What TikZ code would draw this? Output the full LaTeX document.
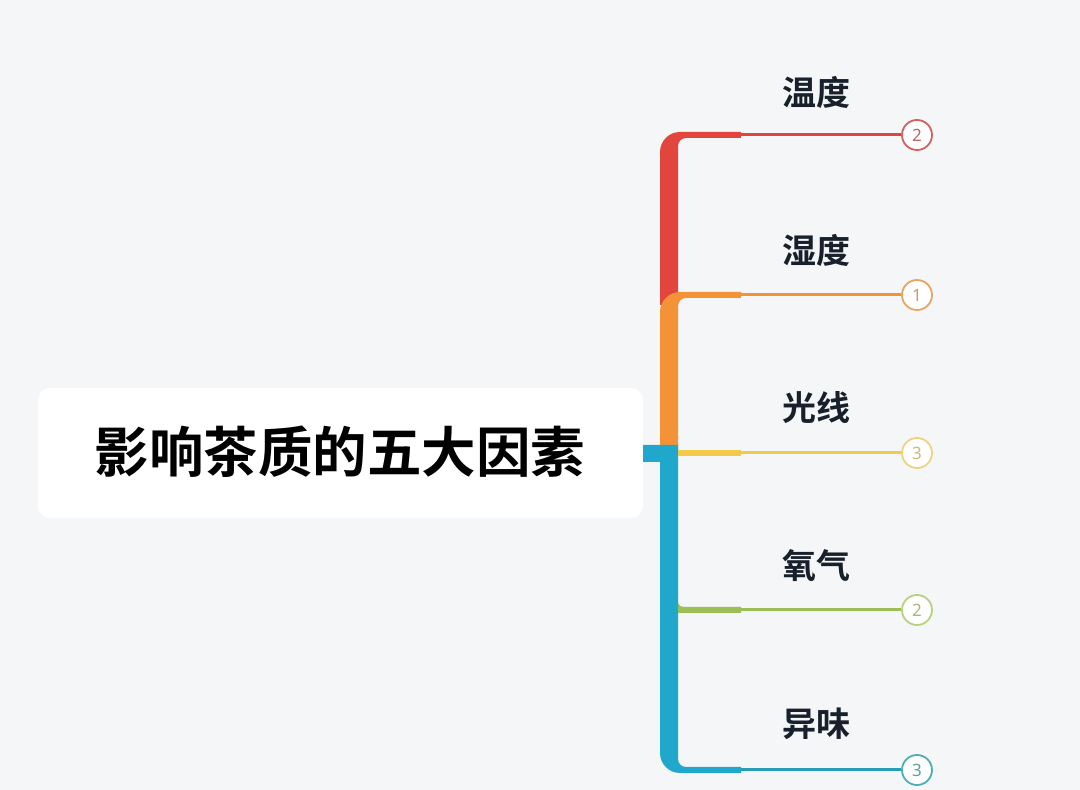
\documentclass[tikz,border=0pt]{standalone}
\usepackage{fontspec}
\newfontfamily\cjk{Noto Sans CJK SC}[BoldFont={Noto Sans CJK SC Bold}]
\newfontfamily\numfont{Noto Sans}
\definecolor{bg}{HTML}{F5F6F8}
\definecolor{cR}{HTML}{E2453C}
\definecolor{cO}{HTML}{F39237}
\definecolor{cY}{HTML}{F2C94B}
\definecolor{cG}{HTML}{9BBE57}
\definecolor{cB}{HTML}{1FA8CB}
\definecolor{cT}{HTML}{2A9DB5}
\definecolor{kR}{HTML}{D0615C}
\definecolor{kO}{HTML}{E8A462}
\definecolor{kY}{HTML}{EED27F}
\definecolor{kG}{HTML}{B8D07F}
\definecolor{kT}{HTML}{4BAEB3}
\definecolor{txt}{HTML}{18202B}
\tikzset{
  num/.style={circle, draw=#1, line width=1.8pt, fill=white, minimum size=30pt, inner sep=0pt, text=#1!70!gray, font=\numfont\fontsize{17}{17}\selectfont},
  lbl/.style={font=\cjk\bfseries\fontsize{34}{34}\selectfont, text=txt},
  thin/.style={line width=3pt, draw=#1},
}
\begin{document}
\begin{tikzpicture}[x=1pt,y=1pt]
\useasboundingbox (0,0) rectangle (1080,790);
\fill[bg] (0,0) rectangle (1080,790);
% central box
\node[fill=white, rounded corners=12pt, minimum width=605pt, minimum height=130pt, inner sep=0pt, anchor=center] (root) at (340.5,337) {};
\node[font=\cjk\bfseries\fontsize{54.5}{54.5}\selectfont, text=black] (title) at (340,338) {影响茶质的五大因素};
% junction coordinates
\coordinate (j1) at (741,655);
\coordinate (j2) at (741,495);
\coordinate (j3) at (741,337);
\coordinate (j4) at (741,180);
\coordinate (j5) at (741,20);
% red trunk piece
\fill[cR] (660,485) -- (660,638) arc[start angle=180,end angle=90,radius=20] -- (741,658) -- (741,652) -- (686,652) arc[start angle=90,end angle=180,radius=8] -- (678,485) -- cycle;
% orange trunk piece
\fill[cO] (660,340) -- (660,478) arc[start angle=180,end angle=90,radius=20] -- (741,498) -- (741,492) -- (686,492) arc[start angle=90,end angle=180,radius=8] -- (678,340) -- cycle;
% blue trunk piece
\fill[cB] (643,345) -- (678,345) -- (678,31) arc[start angle=180,end angle=270,radius=8] -- (741,23) -- (741,17) -- (680,17) arc[start angle=270,end angle=180,radius=20] -- (660,328) -- (643,328) -- cycle;
% yellow and green thick stubs
\fill[cY] (678,340) -- (741,340) -- (741,334) -- (678,334) -- cycle;
\fill[cG] (678,187) to[out=-80,in=180] (684,183) -- (741,183) -- (741,177) -- (678,177) -- cycle;
% number circles
\node[num=kR] (c1) at (917,655) {2};
\node[num=kO] (c2) at (917,495) {1};
\node[num=kY] (c3) at (917,337) {3};
\node[num=kG] (c4) at (917,180) {2};
\node[num=kT] (c5) at (917,20) {3};
% thin branches
\draw[thin=cR] (j1) -- (c1.west);
\draw[thin=cO] (j2) -- (c2.west);
\draw[thin=cY] (j3) -- (c3.west);
\draw[thin=cG] (j4) -- (c4.west);
\draw[thin=cT] (j5) -- (c5.west);
% labels
\node[lbl] (l1) at (816,698) {温度};
\node[lbl] (l2) at (816,540) {湿度};
\node[lbl] (l3) at (816,382) {光线};
\node[lbl] (l4) at (816,224) {氧气};
\node[lbl] (l5) at (816,66) {异味};
\end{tikzpicture}
\end{document}
